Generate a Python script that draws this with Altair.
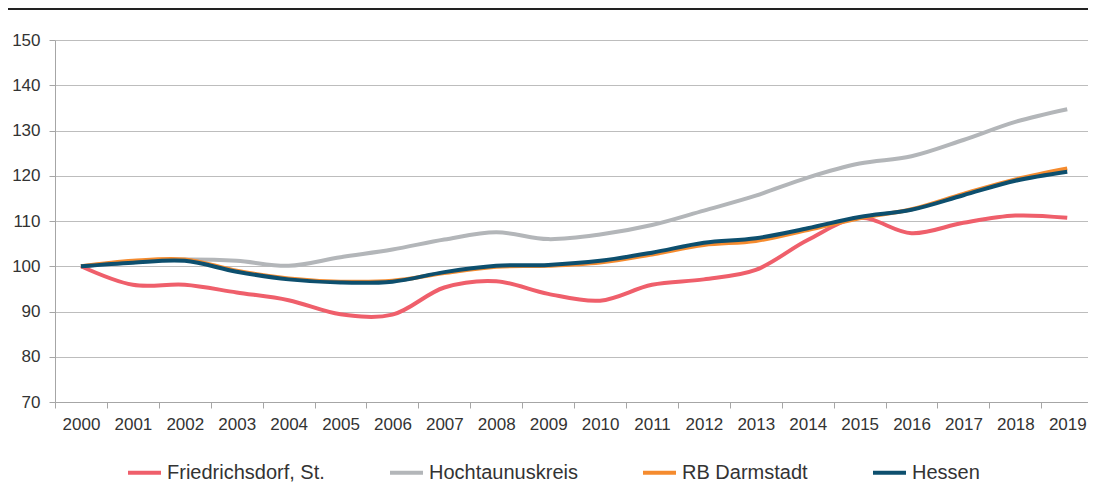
import altair as alt
import pandas as pd

years = list(range(2000, 2020))
series_names = ["Friedrichsdorf, St.", "Hochtaunuskreis", "RB Darmstadt", "Hessen"]
friedrichsdorf = [100, 95.9, 95.9, 94.2, 92.5, 89.4, 89.3, 95.3, 96.7, 93.9,
                  92.4, 95.9, 97.1, 99.2, 105.8, 110.7, 107.3, 109.6, 111.2, 110.7]
hochtaunus = [100, 101.0, 101.5, 101.2, 100.1, 102.0, 103.7, 105.9, 107.5, 106.0,
              107.0, 109.1, 112.3, 115.6, 119.6, 122.7, 124.3, 127.9, 131.9, 134.7]
rb_darmstadt = [100, 101.2, 101.5, 99.0, 97.3, 96.6, 96.8, 98.5, 99.9, 100.1,
                100.8, 102.6, 104.7, 105.6, 108.0, 110.6, 112.6, 116.0, 119.2, 121.6]
hessen = [100, 100.8, 101.2, 98.8, 97.1, 96.4, 96.6, 98.7, 100.1, 100.3,
          101.2, 103.0, 105.2, 106.2, 108.4, 110.9, 112.5, 115.7, 118.9, 120.9]
colors = ["#ef5f6b", "#b3b6b9", "#f58b2e", "#0d4f6e"]
y_ticks = [70, 80, 90, 100, 110, 120, 130, 140, 150]

all_values = [friedrichsdorf, hochtaunus, rb_darmstadt, hessen]
rows = []
for name, vals in zip(series_names, all_values):
    for yr, v in zip(years, vals):
        rows.append({"year": yr, "value": v, "series": name})
df = pd.DataFrame(rows)

x_bounds = [y - 0.5 for y in years]

color_scale = alt.Scale(domain=series_names, range=colors)

x_enc = alt.X(
    "year:Q",
    scale=alt.Scale(domain=[1999.5, 2019.40], nice=False, zero=False),
    axis=alt.Axis(
        values=x_bounds, title=None, grid=False, tickSize=6,
        tickColor="#a6a6a6", domainColor="#a6a6a6", labelOffset=26,
        labelExpr="datum.value + 0.5", labelPadding=8, labelFontSize=17,
        labelColor="#333333", labelFont="Liberation Sans",
        labelFlush=False, labelOverlap=False,
    ),
)
y_enc = alt.Y(
    "value:Q",
    scale=alt.Scale(domain=[70, 150], nice=False, zero=False),
    axis=alt.Axis(
        values=y_ticks, title=None, grid=True, gridColor="#bdbdbd",
        tickSize=6, tickColor="#a6a6a6", domainColor="#a6a6a6",
        labelPadding=9, labelFontSize=17, labelColor="#333333",
        labelFont="Liberation Sans",
    ),
)

layers = []
for name in series_names:
    layers.append(
        alt.Chart(df)
        .transform_filter(alt.datum.series == name)
        .mark_line(strokeWidth=4, interpolate="catmull-rom")
        .encode(
            x=x_enc,
            y=y_enc,
            color=alt.Color(
                "series:N", scale=color_scale,
                legend=alt.Legend(
                    title=None, orient="none", direction="horizontal",
                    legendX=71, legendY=414, padding=0, symbolType="stroke",
                    symbolSize=1089, symbolStrokeWidth=4, labelFontSize=20,
                    labelFont="Liberation Sans", labelColor="#333333",
                    labelOffset=4, columnPadding=57, labelLimit=400,
                ),
            ),
        )
    )

top_rule = (
    alt.Chart(pd.DataFrame({"a": [0]}))
    .mark_rule(color="#222222", strokeWidth=2)
    .encode(x=alt.value(-47), x2=alt.value(1033), y=alt.value(-31))
)

chart = (
    alt.layer(*layers, top_rule)
    .properties(
        width=1033, height=362,
        autosize=alt.AutoSizeParams(type="none"),
        padding={"left": 47, "top": 32, "right": 0, "bottom": 81},
    )
    .configure_view(stroke=None)
)

chart.save("out.html", embed_options={"renderer": "svg", "actions": False})
